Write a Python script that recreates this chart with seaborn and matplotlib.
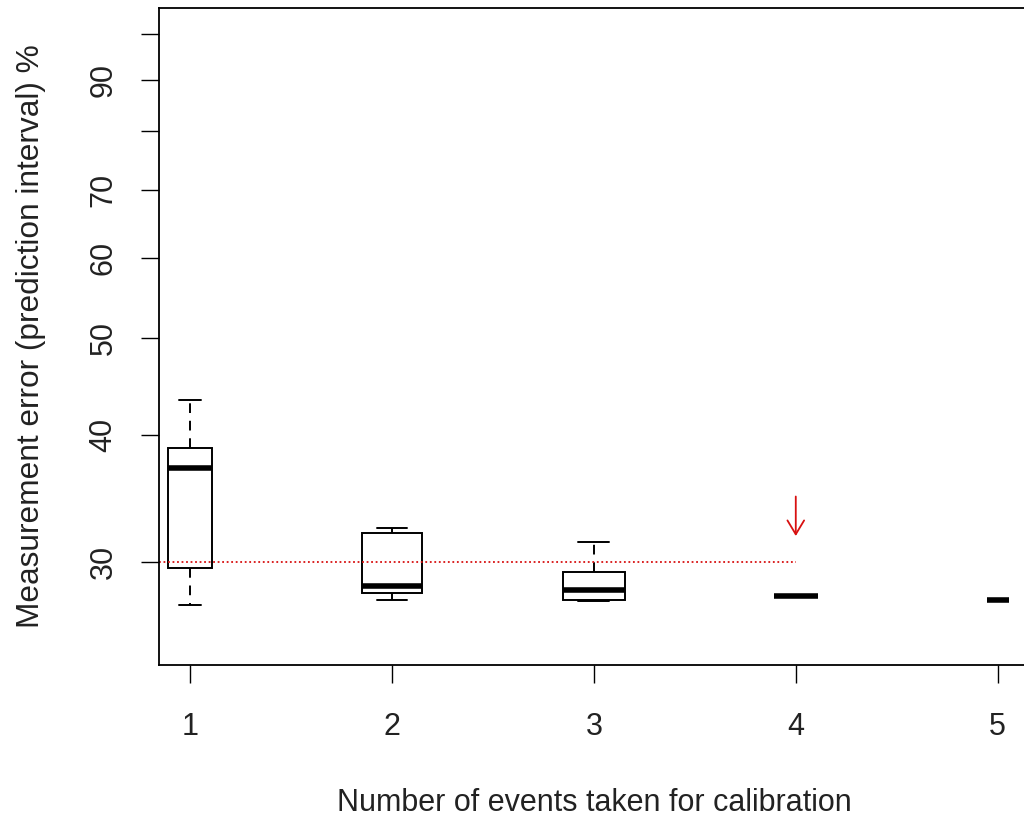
import matplotlib
matplotlib.use("Agg")
import matplotlib.pyplot as plt
from matplotlib.ticker import NullLocator, FixedLocator
import seaborn as sns
import pandas as pd

# ---- data ----
groups = [1, 2, 3, 4, 5]
# five-number summaries per group: min, q1, median, q3, max
g1 = [27.2, 29.6, 37.1, 38.9, 43.4]
g2 = [27.5, 27.9, 28.4, 32.0, 32.4]
g3 = [27.4, 27.5, 28.1, 29.3, 31.4]
g4 = [27.75, 27.75, 27.75, 27.75, 27.75]
g5 = [27.5, 27.5, 27.5, 27.5, 27.5]
group_values = [g1, g2, g3, g4, g5]
box_widths = [0.213, 0.30, 0.305, 0.216, 0.11]
threshold = 30
threshold_end = 4
arrow_from = 34.8
arrow_to = 31.8
arrow_group = 4
ytick_values = [30, 40, 50, 60, 70, 80, 90, 100]
ytick_labels = ["30", "40", "50", "60", "70", "", "90", ""]
xtick_labels = ["1", "2", "3", "4", "5"]

sns.set_style("ticks")
plt.rcParams["font.family"] = ["Liberation Sans", "DejaVu Sans"]

fig = plt.figure(figsize=(10.24, 8.18), dpi=100)
ax = fig.add_axes([159 / 1024, 1 - 665 / 818, 870 / 1024, 657 / 818])

for g, vals, w in zip(groups, group_values, box_widths):
    df = pd.DataFrame({"x": [g] * len(vals), "y": vals})
    sns.boxplot(
        data=df, x="x", y="y", native_scale=True, width=w,
        color="white", linecolor="black", linewidth=1.4,
        whiskerprops=dict(linestyle=(0, (5, 4))),
        medianprops=dict(linewidth=4, solid_capstyle="butt"),
        showfliers=False, log_scale=(False, True), ax=ax,
    )

ax.set_xlim(0.8465, 5.155)
ax.set_ylim(23.7, 106)

ax.hlines(threshold, ax.get_xlim()[0], threshold_end, colors="#d81010",
          linestyles=(0, (1, 1.5)), linewidth=1.3)
ax.annotate("", xy=(arrow_group, arrow_to), xytext=(arrow_group, arrow_from),
            arrowprops=dict(arrowstyle="->,head_length=1.0,head_width=0.6",
                            color="#d81010", lw=1.3, shrinkA=0, shrinkB=0))

ax.yaxis.set_major_locator(FixedLocator(ytick_values))
ax.yaxis.set_minor_locator(NullLocator())
ax.set_yticklabels(ytick_labels, rotation=90, va="center")
ax.set_xticks(groups)
ax.set_xticklabels(xtick_labels)

ax.tick_params(axis="both", length=13, width=1.0, labelsize=22, color="black",
               labelcolor="#222222")
ax.tick_params(axis="y", pad=16)
ax.tick_params(axis="x", pad=21)
for s in ax.spines.values():
    s.set_linewidth(1.3)
    s.set_color("black")

ax.set_xlabel("Number of events taken for calibration", fontsize=22,
              color="#222222", labelpad=33)
ax.set_ylabel("Measurement error (prediction interval) %", fontsize=22.8,
              color="#222222", labelpad=31)

fig.savefig("out.png", dpi=100)
